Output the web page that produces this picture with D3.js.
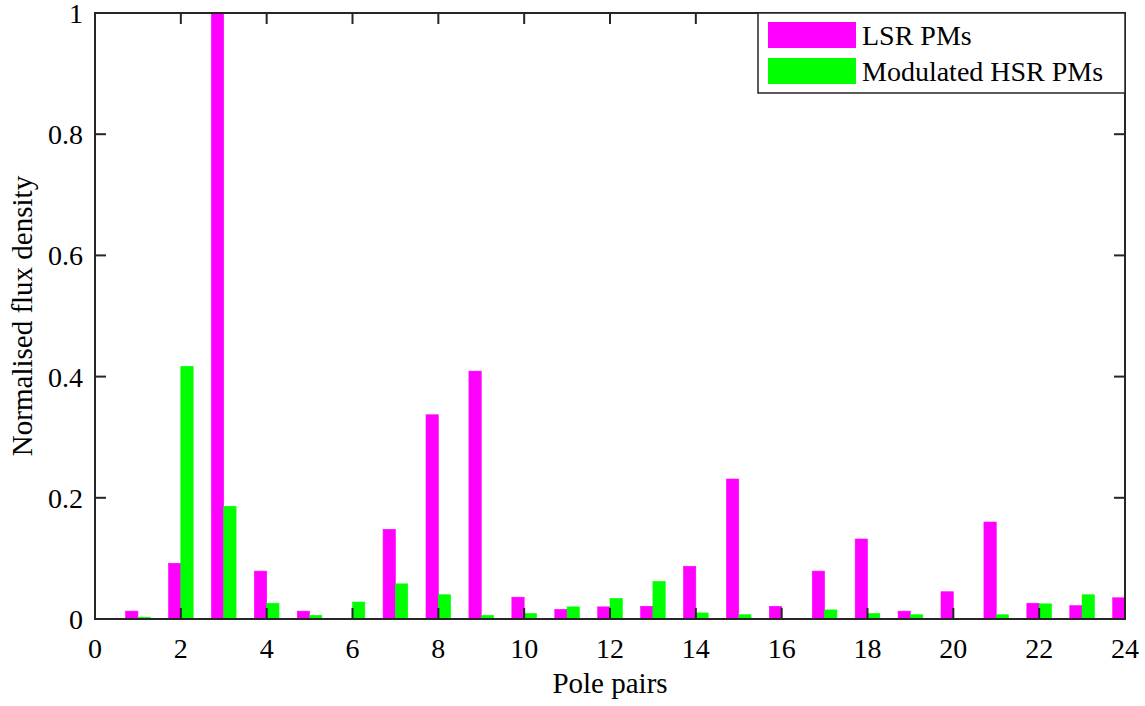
<!DOCTYPE html>
<html>
<head>
<meta charset="utf-8">
<script src="https://cdn.jsdelivr.net/npm/d3@7"></script>
<style>
	body { margin: 0; background: white; }
	svg { font-family: "Liberation Serif", "Times New Roman", serif; }
</style>
</head>
<body>
<div id="chart"></div>
<script>
// pole pairs 1..24
let poles = d3.range(1, 25);
let lsr = [0.013, 0.092, 1.0, 0.079, 0.013, 0, 0.148, 0.337, 0.409, 0.036, 0.016, 0.020,
	0.021, 0.087, 0.231, 0.021, 0.079, 0.132, 0.013, 0.045, 0.160, 0.026, 0.022, 0.035];
let hsr = [0.003, 0.417, 0.186, 0.026, 0.006, 0.028, 0.058, 0.040, 0.006, 0.009, 0.020, 0.034,
	0.062, 0.010, 0.007, 0, 0.015, 0.009, 0.007, 0, 0.007, 0.025, 0.040, 0.010];
let xticks = d3.range(0, 25, 2);
let yticks = [0, 0.2, 0.4, 0.6, 0.8, 1];
let series = [
	{name: "LSR PMs", values: lsr, color: "#ff00ff", offset: -1},
	{name: "Modulated HSR PMs", values: hsr, color: "#00ff00", offset: 0}
];

let width = 1145, height = 706;
let margin = {top: 13, right: 20, bottom: 87, left: 95};
let axisColor = "#262626";

let svg = d3.select("#chart").append("svg")
	.attr("width", width)
	.attr("height", height);

let x = d3.scaleLinear([0, 24], [margin.left, width - margin.right]);
let y = d3.scaleLinear([0, 1], [height - margin.bottom, margin.top]);
let bw = x(0.287) - x(0);

svg.append("clipPath")
	.attr("id", "clip")
	.append("rect")
	.attr("x", x(0)).attr("y", y(1))
	.attr("width", x(24) - x(0)).attr("height", y(0) - y(1));

// bars
let gbars = svg.append("g").attr("clip-path", "url(#clip)");
series.forEach(s => {
	gbars.append("g")
		.selectAll("rect")
		.data(poles.map((p, i) => [p, s.values[i]]))
		.join("rect")
		.attr("x", d => x(d[0]) + s.offset * bw)
		.attr("y", d => y(d[1]))
		.attr("width", bw)
		.attr("height", d => y(0) - y(d[1]))
		.attr("fill", s.color)
		.attr("stroke", d3.color(s.color).brighter(0.6))
		.attr("stroke-width", 0.6);
});

// axes (MATLAB-like box with inward ticks)
let tick = 11;
let gax = svg.append("g")
	.attr("stroke", axisColor)
	.attr("stroke-width", 2);
gax.selectAll(".xb").data(xticks).join("line")
	.attr("x1", d => x(d)).attr("x2", d => x(d))
	.attr("y1", y(0)).attr("y2", y(0) - tick);
gax.selectAll(".xt").data(xticks).join("line")
	.attr("x1", d => x(d)).attr("x2", d => x(d))
	.attr("y1", y(1)).attr("y2", y(1) + tick);
gax.selectAll(".yl").data(yticks).join("line")
	.attr("x1", x(0)).attr("x2", x(0) + tick)
	.attr("y1", d => y(d)).attr("y2", d => y(d));
gax.selectAll(".yr").data(yticks).join("line")
	.attr("x1", x(24)).attr("x2", x(24) - tick)
	.attr("y1", d => y(d)).attr("y2", d => y(d));
gax.append("rect")
	.attr("x", x(0)).attr("y", y(1))
	.attr("width", x(24) - x(0)).attr("height", y(0) - y(1))
	.attr("fill", "none");

// tick labels
svg.append("g")
	.attr("font-size", 28)
	.attr("fill", "black")
	.attr("text-anchor", "middle")
	.selectAll("text")
	.data(xticks)
	.join("text")
	.attr("x", d => x(d))
	.attr("y", y(0) + 39)
	.text(d => d);
svg.append("g")
	.attr("font-size", 28)
	.attr("fill", "black")
	.attr("text-anchor", "end")
	.selectAll("text")
	.data(yticks)
	.join("text")
	.attr("x", x(0) - 12)
	.attr("y", d => y(d) + 10)
	.text(d => d);

// axis labels
svg.append("text")
	.attr("x", (x(0) + x(24)) / 2)
	.attr("y", 693)
	.attr("text-anchor", "middle")
	.attr("font-size", 29)
	.text("Pole pairs");
svg.append("text")
	.attr("transform", `translate(32,${(y(0) + y(1)) / 2}) rotate(-90)`)
	.attr("text-anchor", "middle")
	.attr("font-size", 29)
	.text("Normalised flux density");

// legend
let lg = svg.append("g").attr("transform", `translate(758,${y(1)})`);
lg.append("rect")
	.attr("width", x(24) - 758).attr("height", 80)
	.attr("fill", "white")
	.attr("stroke", axisColor)
	.attr("stroke-width", 1.5);
lg.selectAll("g")
	.data(series)
	.join("g")
	.attr("transform", (d, i) => `translate(10,${9 + i * 36})`)
	.call(g => g.append("rect")
		.attr("width", 88).attr("height", 26)
		.attr("fill", d => d.color))
	.call(g => g.append("text")
		.attr("x", 94).attr("y", 23)
		.attr("font-size", 28)
		.text(d => d.name));
</script>
</body>
</html>
